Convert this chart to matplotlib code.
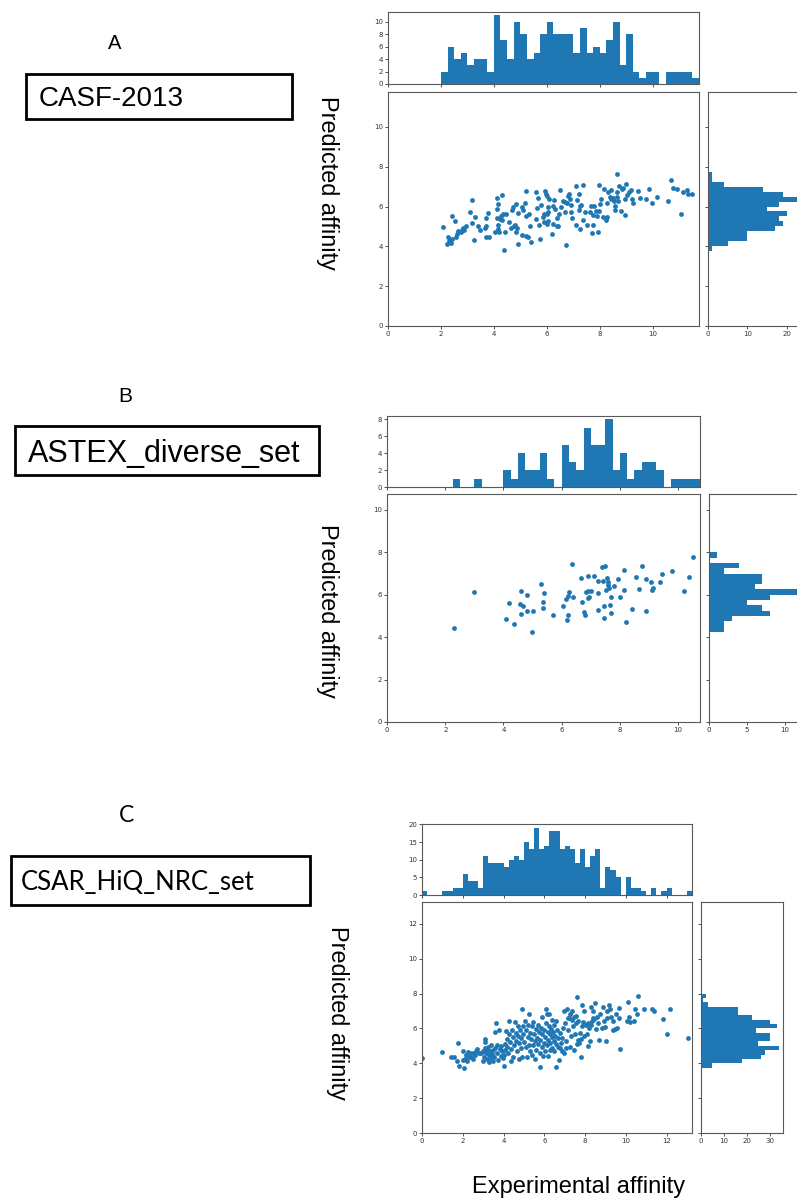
import numpy as np
import matplotlib.pyplot as plt
from matplotlib.patches import Rectangle
from matplotlib.ticker import MultipleLocator

W, H = 797, 1201
BW = 0.25  # histogram bin width

# ---------------- A : CASF-2013 ----------------
casf_exp = [2.08, 2.23, 2.28, 2.33, 2.38, 2.41, 2.31, 2.43, 2.52, 2.56, 2.59, 2.65, 2.74, 2.79, 2.84,
            2.89, 2.96, 3.09, 3.17, 3.19, 3.25, 3.28, 3.40, 3.47, 3.66, 3.70, 3.71, 3.72, 3.78, 3.82,
            4.05, 4.10, 4.12, 4.12, 4.15, 4.17, 4.17, 4.20, 4.22, 4.27, 4.30, 4.31, 4.35, 4.38, 4.43,
            4.45, 4.58, 4.63, 4.70, 4.73, 4.75, 4.80, 4.82, 4.85, 4.88, 4.91, 4.93, 5.06, 5.08, 5.11,
            5.18, 5.21, 5.22, 5.23, 5.28, 5.31, 5.38, 5.41, 5.59, 5.61, 5.64, 5.66, 5.69, 5.76, 5.79,
            5.84, 5.89, 5.91, 5.94, 5.97, 5.99, 5.99, 6.02, 6.04, 6.06, 6.06, 6.09, 6.19, 6.22, 6.24,
            6.29, 6.32, 6.37, 6.39, 6.44, 6.47, 6.49, 6.54, 6.60, 6.67, 6.67, 6.72, 6.75, 6.80, 6.85,
            6.87, 6.90, 6.92, 6.97, 7.10, 7.10, 7.15, 7.20, 7.23, 7.25, 7.27, 7.30, 7.35, 7.38, 7.45,
            7.52, 7.63, 7.68, 7.71, 7.74, 7.76, 7.79, 7.84, 7.89, 7.94, 7.96, 7.99, 8.01, 8.04, 8.14,
            8.16, 8.24, 8.26, 8.28, 8.33, 8.39, 8.41, 8.44, 8.49, 8.54, 8.56, 8.59, 8.64, 8.66, 8.66,
            8.69, 8.71, 8.79, 8.84, 8.89, 8.97, 8.97, 8.99, 9.02, 9.09, 9.17, 9.22, 9.27, 9.45, 9.52,
            9.75, 9.87, 9.99, 10.17, 10.58, 10.68, 10.76, 10.91, 11.06, 11.14, 11.31, 11.35, 11.50]
casf_pred = [4.97, 4.10, 4.47, 4.33, 4.16, 5.50, 4.26, 4.38, 5.25, 4.47, 4.60, 4.77, 4.73, 4.83, 4.90,
             4.83, 5.00, 5.70, 6.34, 5.17, 4.33, 5.47, 5.02, 4.83, 4.90, 5.40, 5.02, 4.47, 5.67, 4.47,
             4.73, 5.44, 5.89, 6.44, 4.87, 6.14, 5.05, 4.73, 5.37, 5.54, 6.57, 5.34, 5.64, 3.80, 4.73,
             5.60, 5.20, 4.92, 5.84, 5.97, 5.00, 5.07, 4.72, 6.14, 4.93, 5.67, 4.10, 5.97, 4.57, 5.80,
             6.20, 5.50, 6.77, 4.53, 4.47, 5.64, 5.02, 4.21, 6.71, 5.37, 5.94, 6.44, 5.05, 4.36, 6.07,
             5.47, 5.60, 5.23, 6.77, 6.61, 5.64, 5.13, 6.54, 5.74, 5.97, 5.27, 6.40, 4.60, 6.04, 5.13,
             6.34, 5.87, 5.00, 5.40, 5.03, 5.64, 6.81, 5.97, 6.30, 5.70, 6.24, 4.06, 6.17, 6.54, 6.61,
             6.37, 6.07, 5.70, 5.44, 5.07, 7.01, 6.34, 6.61, 5.84, 6.04, 4.87, 6.10, 7.06, 5.34, 5.70,
             5.07, 5.70, 6.04, 4.67, 5.07, 5.57, 6.04, 5.77, 5.50, 4.70, 5.77, 7.07, 6.14, 6.40, 5.47,
             6.87, 5.30, 5.47, 6.17, 6.74, 6.47, 6.84, 6.37, 6.44, 6.30, 5.84, 6.04, 6.50, 7.61, 6.71,
             6.30, 7.01, 5.77, 6.87, 6.94, 6.37, 5.57, 7.11, 6.57, 6.71, 6.81, 6.37, 6.20, 6.77, 6.44,
             6.37, 6.87, 6.17, 6.50, 6.27, 7.31, 6.91, 6.86, 5.64, 6.71, 6.84, 6.61, 6.62]
casf_top_start = 2.0
casf_top = [2, 6, 4, 5, 3, 4, 4, 2, 11, 7, 4, 10, 8, 4, 5, 8, 10, 8, 8, 8, 5, 9, 5, 6, 5, 7,
            10, 3, 8, 2, 1, 2, 2, 0, 2, 2, 2, 2, 1]
casf_side_start = 3.75
casf_side = [1, 5, 10, 10, 17, 19, 18, 20, 15, 18, 23, 19, 14, 4, 1, 1]
casf_lim = 11.75

# ---------------- B : ASTEX diverse set ----------------
astex_exp = [2.30, 2.99, 4.08, 4.18, 4.37, 4.56, 4.59, 4.60, 4.66, 4.80, 4.80, 4.99, 5.02, 5.30, 5.36,
             5.37, 5.38, 5.69, 6.04, 6.16, 6.18, 6.22, 6.23, 6.24, 6.37, 6.39, 6.68, 6.69, 6.75, 6.79,
             6.83, 6.89, 6.89, 6.92, 6.95, 6.99, 7.11, 7.23, 7.23, 7.24, 7.40, 7.42, 7.46, 7.47, 7.49,
             7.51, 7.55, 7.59, 7.60, 7.62, 7.65, 7.70, 7.70, 7.81, 7.94, 8.00, 8.14, 8.14, 8.22, 8.42,
             8.56, 8.67, 8.75, 8.89, 8.89, 9.08, 9.09, 9.15, 9.38, 9.45, 9.80, 10.21, 10.37, 10.50]
astex_pred = [4.45, 6.14, 4.84, 5.60, 4.61, 5.55, 6.19, 5.11, 5.49, 5.97, 5.25, 4.26, 5.24, 6.50, 5.38,
              5.66, 6.10, 5.06, 5.47, 5.78, 4.81, 5.05, 5.94, 6.14, 7.43, 5.89, 6.80, 5.67, 5.20, 5.05,
              6.14, 6.89, 5.83, 6.16, 5.88, 6.19, 6.88, 5.30, 6.66, 6.06, 7.30, 6.63, 5.47, 4.92, 7.35,
              6.22, 6.77, 6.61, 6.46, 6.33, 5.52, 5.88, 5.13, 6.39, 6.74, 5.91, 7.19, 6.22, 4.71, 5.33,
              6.83, 6.29, 7.35, 6.72, 5.22, 6.61, 6.24, 6.33, 6.61, 6.97, 7.12, 6.18, 6.82, 7.76]
astex_top_start = 2.25
astex_top = [1, 0, 0, 1, 0, 0, 0, 2, 1, 4, 2, 2, 4, 1, 0, 5, 3, 2, 7, 5, 5, 8, 2, 4, 1, 2, 3,
             3, 2, 0, 1, 1, 1, 1]
astex_side_start = 4.25
astex_side = [2, 2, 3, 8, 7, 5, 8, 12, 6, 7, 7, 2, 4, 0, 1]
astex_lim = 10.75

# ---------------- C : CSAR HiQ NRC set ----------------
csar_exp = [0.02, 0.99, 1.40, 1.58, 1.71, 1.79, 1.84, 2.01, 2.02, 2.05, 2.09,
            2.15, 2.19, 2.25, 2.29, 2.35, 2.42, 2.48, 2.52, 2.58, 2.65, 2.71, 2.81, 2.91, 2.98, 3.01,
            3.04, 3.07, 3.07, 3.11, 3.14, 3.17, 3.21, 3.24, 3.27, 3.30, 3.34, 3.37, 3.40, 3.44, 3.47,
            3.50, 3.53, 3.57, 3.60, 3.63, 3.67, 3.70, 3.73, 3.80, 3.83, 3.86, 3.90, 3.93, 3.96, 4.00,
            4.03, 4.06, 4.09, 4.13, 4.16, 4.19, 4.22, 4.26, 4.29, 4.32, 4.36, 4.39, 4.42, 4.45, 4.49,
            4.52, 4.55, 4.59, 4.62, 4.65, 4.69, 4.72, 4.75, 4.78, 4.82, 4.85, 4.88, 4.92, 4.92, 4.95,
            4.98, 5.01, 5.05, 5.08, 5.11, 5.15, 5.18, 5.21, 5.24, 5.24, 5.28, 5.31, 5.34, 5.38, 5.41,
            5.44, 5.47, 5.51, 5.54, 5.54, 5.57, 5.60, 5.64, 5.67, 5.70, 5.74, 5.77, 5.77, 5.80, 5.84,
            5.87, 5.87, 5.90, 5.93, 5.97, 6.00,
            6.03, 6.06, 6.10, 6.10, 6.13, 6.13, 6.16, 6.16, 6.20, 6.23, 6.23, 6.26, 6.26, 6.30, 6.33,
            6.36, 6.40, 6.40, 6.43, 6.46, 6.49, 6.49, 6.53, 6.56, 6.56, 6.59, 6.63, 6.66, 6.69, 6.72,
            6.76, 6.79, 6.82, 6.86, 6.89, 6.92, 6.95, 6.99, 7.02, 7.05, 7.08, 7.12, 7.15, 7.18, 7.21,
            7.25, 7.28, 7.32, 7.35, 7.38, 7.41, 7.45, 7.48, 7.51, 7.55, 7.58, 7.61, 7.61, 7.64, 7.68,
            7.71, 7.74, 7.78, 7.81, 7.84, 7.87, 7.91, 7.94, 7.97,
            8.04, 8.10, 8.14, 8.17, 8.20, 8.24, 8.27, 8.30, 8.34, 8.37, 8.40, 8.43, 8.50, 8.53, 8.57,
            8.63, 8.70, 8.73, 8.83, 8.86, 8.93, 8.99, 9.02, 9.06, 9.09, 9.16, 9.22, 9.29, 9.35, 9.39,
            9.45, 9.52, 9.58, 9.65, 9.68, 9.71,
            10.08, 10.11, 10.14, 10.21, 10.41, 10.44, 10.54, 10.60, 10.87, 11.29, 11.39, 11.82, 12.02,
            12.15, 13.04]
csar_pred = [4.33, 4.63, 4.34, 4.34, 4.13, 5.19, 3.87, 4.73, 4.19, 3.75, 4.27,
             4.50, 4.11, 4.65, 4.34, 4.57, 4.38, 4.61, 4.23, 4.46, 4.69, 4.80, 4.57, 4.61, 4.69, 4.11,
             4.34, 5.38, 4.88, 5.23, 4.57, 4.23, 4.76, 4.92, 4.46, 4.08, 4.69, 4.31, 5.03, 4.53, 4.11,
             4.76, 4.34, 5.80, 4.88, 6.30, 4.61, 5.07, 4.19, 5.88, 4.84, 4.42, 4.99, 4.69, 4.31, 3.85,
             4.50, 5.11, 4.76, 5.84, 5.42, 4.96, 4.61, 5.65, 6.45, 5.23, 4.11, 4.84, 5.88, 5.53, 4.34,
             5.07, 6.34, 5.72, 5.30, 4.69, 6.11, 5.57, 4.27, 5.15, 5.88, 5.46, 4.88, 7.10, 4.38, 6.15,
             5.69, 5.23, 6.42, 4.92, 5.92, 4.34, 5.53, 6.22, 6.83, 5.07, 4.69, 5.76, 5.38, 6.11, 4.50,
             5.03, 6.34, 5.65, 5.27, 4.27, 5.99, 4.76, 5.46, 6.19, 5.11, 5.80, 3.77, 4.57, 5.34, 6.03,
             6.68, 4.92, 5.65, 4.42, 5.19, 5.92,
             5.49, 4.73, 7.14, 6.30, 6.83, 5.03, 5.80, 4.42, 5.34, 6.83, 6.11, 5.65, 4.76, 5.19, 5.96,
             5.49, 6.49, 4.88, 5.80, 5.30, 6.19, 4.69, 5.57, 3.81, 5.11, 6.42, 5.92, 4.96, 5.46, 4.19,
             4.88, 5.72, 5.15, 4.73, 5.46, 6.03, 4.57, 6.99, 6.30, 5.27, 4.88, 7.10, 6.61, 5.88, 6.57,
             4.96, 6.80, 5.57, 6.49, 7.02, 6.11, 4.76, 6.64, 5.69, 6.30, 6.72, 7.79, 5.11, 5.34, 6.42,
             5.15, 5.72, 4.34, 5.42, 7.37, 6.11, 6.38, 6.99, 5.57,
             6.19, 5.65, 6.30, 5.00, 6.03, 5.30, 7.25, 6.22, 6.42, 6.61, 6.99, 6.53, 7.44, 5.96, 6.68,
             6.30, 5.34, 6.80, 6.03, 7.25, 6.42, 6.07, 5.27, 6.99, 6.57, 7.37, 7.10, 6.68, 5.88, 6.42,
             5.99, 6.80, 6.03, 6.57, 7.18, 4.80,
             6.45, 7.52, 6.68, 6.34, 6.45, 7.14, 6.80, 7.83, 7.14, 7.10, 7.02, 6.53, 5.65,
             7.14, 5.45]
csar_top_start = 0.0
csar_top = [1, 0, 0, 0, 1, 1, 2, 2, 6, 4, 4, 2, 11, 9, 9, 9, 8, 10, 11, 10, 15, 13, 19, 13,
            14, 18, 18, 13, 14, 13, 9, 13, 8, 11, 13, 2, 8, 7, 5, 0, 5, 2, 2, 1, 0, 2, 0, 1, 2,
            0, 0, 0, 1]
csar_side_start = 3.75
csar_side = [5, 18, 26, 28, 34, 25, 30, 30, 24, 33, 30, 22, 16, 16, 3, 1, 2]
csar_lim = 13.25


def px_axes(fig, x0, y0, x1, y1):
    # pixel box (origin top-left) -> figure axes
    return fig.add_axes([x0 / W, 1 - y1 / H, (x1 - x0) / W, (y1 - y0) / H])


def style(ax):
    for s in ax.spines.values():
        s.set_color('0.35')
        s.set_linewidth(0.8)
    ax.tick_params(labelsize=5, length=2, width=0.6, pad=1.5, colors='0.2')


def panel(fig, exp, pred, top_start, top, side_start, side, lim,
          main_box, top_box, side_box, top_step, side_step, top_ylim=None):
    ax = px_axes(fig, *main_box)
    axx = px_axes(fig, *top_box)
    axy = px_axes(fig, *side_box)
    ax.scatter(exp, pred, s=12, color='#1f77b4', linewidths=0)
    ax.set_xlim(0, lim)
    ax.set_ylim(0, lim)
    ax.xaxis.set_major_locator(MultipleLocator(2))
    ax.yaxis.set_major_locator(MultipleLocator(2))

    edges_x = top_start + BW * np.arange(len(top))
    axx.bar(edges_x, top, width=BW, align='edge', color='#1f77b4', linewidth=0)
    axx.set_xlim(0, lim)
    if top_ylim:
        axx.set_ylim(0, top_ylim)
    axx.xaxis.set_major_locator(MultipleLocator(2))
    axx.yaxis.set_major_locator(MultipleLocator(top_step))
    axx.tick_params(axis='x', labelbottom=False)

    edges_y = side_start + BW * np.arange(len(side))
    axy.barh(edges_y, side, height=BW, align='edge', color='#1f77b4', linewidth=0)
    axy.set_ylim(0, lim)
    axy.yaxis.set_major_locator(MultipleLocator(2))
    axy.xaxis.set_major_locator(MultipleLocator(side_step))
    axy.tick_params(axis='y', labelleft=False)
    for a in (ax, axx, axy):
        style(a)


fig = plt.figure(figsize=(W / 100, H / 100), dpi=100)

panel(fig, casf_exp, casf_pred, casf_top_start, casf_top, casf_side_start, casf_side, casf_lim,
      (388, 92, 699, 326), (388, 12, 699, 84), (708, 92, 803, 326), 2, 10)
panel(fig, astex_exp, astex_pred, astex_top_start, astex_top, astex_side_start, astex_side, astex_lim,
      (387, 494, 700, 722), (387, 416, 700, 487), (709, 494, 805, 722), 2, 5)
panel(fig, csar_exp, csar_pred, csar_top_start, csar_top, csar_side_start, csar_side, csar_lim,
      (422, 902, 692, 1133), (422, 824, 692, 895), (701, 902, 783, 1133), 5, 10, top_ylim=20.1)


def ftext(x, y, s, **kw):
    fig.text(x / W, 1 - y / H, s, **kw)


def fbox(x0, y0, x1, y1):
    fig.add_artist(Rectangle((x0 / W, 1 - y1 / H), (x1 - x0) / W, (y1 - y0) / H,
                             transform=fig.transFigure, fill=False, lw=2, ec='black'))


arial = 'Liberation Sans'
calibri = ['Lato', 'DejaVu Sans']

# panel letters
ftext(115, 49, 'A', family=arial, fontsize=14.5, ha='center', va='baseline')
ftext(125, 402, 'B', family=arial, fontsize=15, ha='center', va='baseline')
ftext(126, 822, 'C', family=calibri, fontsize=16.5, ha='center', va='baseline')

# dataset name boxes
fbox(26.3, 73.6, 292, 118.7)
ftext(39, 106, 'CASF-2013', family=arial, fontsize=20, ha='left', va='baseline')
fbox(14.6, 426.3, 319.4, 475.3)
ftext(28, 461.7, 'ASTEX_diverse_set', family=arial, fontsize=22, ha='left', va='baseline')
fbox(10.5, 856.3, 309.9, 905.3)
ftext(21, 890, 'CSAR_HiQ_NRC_set', family=calibri, fontsize=18.5, ha='left', va='baseline')

# axis labels
for (x, y) in [(328, 183), (327, 611), (338, 1013)]:
    ftext(x, y, 'Predicted affinity', family=arial, fontsize=16.9, rotation=-90,
          ha='center', va='center')
ftext(579, 1187, 'Experimental affinity', family=arial, fontsize=17, ha='center', va='center')

fig.savefig('out.png', dpi=100)
